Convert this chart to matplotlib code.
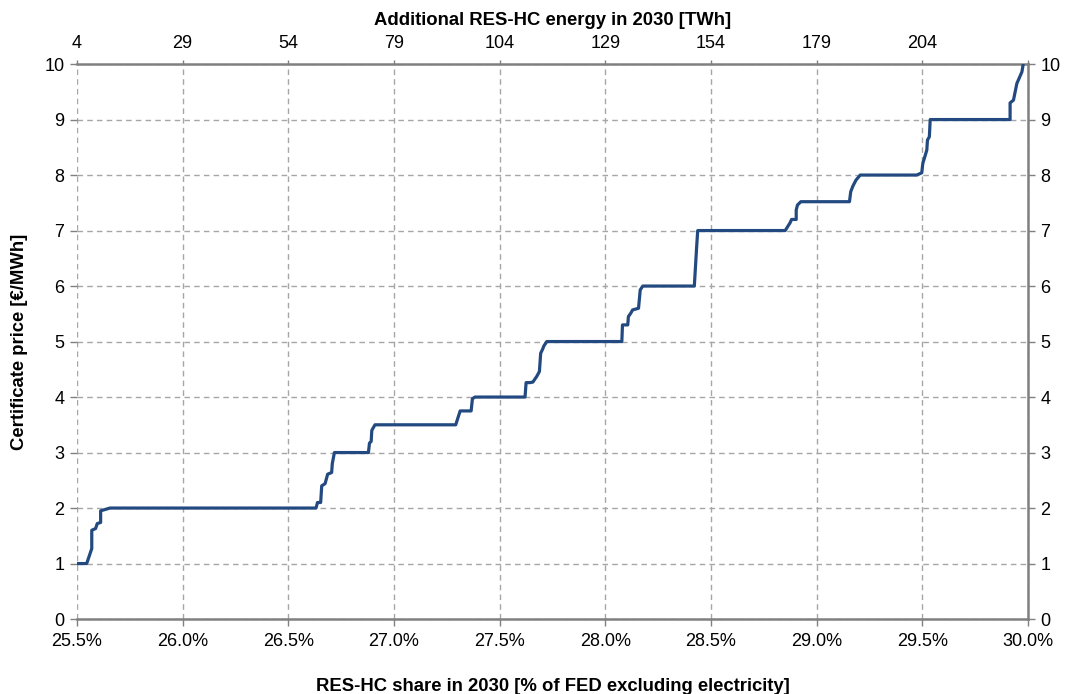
import matplotlib
matplotlib.use("Agg")
import matplotlib.pyplot as plt

plt.rcParams["font.family"] = ["Liberation Sans", "DejaVu Sans"]

# RES-HC share in 2030 [%] and certificate price [EUR/MWh]
share = [25.500, 25.546, 25.570, 25.570, 25.588, 25.596, 25.612, 25.612, 25.656,
         26.631, 26.638, 26.653, 26.658, 26.674, 26.686, 26.705, 26.708, 26.718,
         26.879, 26.884, 26.892, 26.895, 26.910,
         27.292, 27.313, 27.365, 27.371, 27.383,
         27.620, 27.625, 27.643, 27.657, 27.675, 27.688, 27.694, 27.703, 27.709, 27.723,
         28.078, 28.081, 28.106, 28.109, 28.120, 28.129, 28.157, 28.165, 28.177,
         28.421, 28.432, 28.437,
         28.851, 28.874, 28.881, 28.903, 28.903, 28.909, 28.925,
         29.155, 29.161, 29.171, 29.186, 29.206,
         29.473, 29.497, 29.502, 29.521, 29.524, 29.533, 29.537,
         29.915, 29.915, 29.931, 29.947, 29.971, 29.977]
price = [1.00, 1.00, 1.27, 1.60, 1.63, 1.72, 1.74, 1.95, 2.00,
         2.00, 2.10, 2.10, 2.40, 2.44, 2.61, 2.64, 2.80, 3.00,
         3.00, 3.17, 3.20, 3.40, 3.50,
         3.50, 3.75, 3.75, 3.97, 4.00,
         4.00, 4.26, 4.26, 4.27, 4.37, 4.46, 4.79, 4.86, 4.92, 5.00,
         5.00, 5.30, 5.30, 5.45, 5.51, 5.57, 5.60, 5.93, 6.00,
         6.00, 6.71, 7.00,
         7.00, 7.14, 7.20, 7.20, 7.37, 7.46, 7.52,
         7.52, 7.70, 7.80, 7.91, 8.00,
         8.00, 8.04, 8.21, 8.45, 8.63, 8.69, 9.00,
         9.00, 9.30, 9.35, 9.65, 9.86, 10.00]

bottom_ticks = [25.5, 26.0, 26.5, 27.0, 27.5, 28.0, 28.5, 29.0, 29.5, 30.0]
bottom_labels = ["25.5%", "26.0%", "26.5%", "27.0%", "27.5%", "28.0%", "28.5%",
                 "29.0%", "29.5%", "30.0%"]
top_labels = ["4", "29", "54", "79", "104", "129", "154", "179", "204", ""]
y_ticks = [0, 1, 2, 3, 4, 5, 6, 7, 8, 9, 10]

grey = "#808080"
fs = 13
fs_lab = 13.3

fig = plt.figure(figsize=(10.69, 6.94), dpi=100)
ax = fig.add_axes([0.072, 0.108, 0.8897, 0.7997])
ax.plot(share, price, color="#234A80", lw=2.3, solid_joinstyle="round", zorder=3)

ax.set_xlim(25.5, 30.0)
ax.set_ylim(0, 10)
ax.set_xticks(bottom_ticks)
ax.set_xticklabels(bottom_labels)
ax.set_yticks(y_ticks)
ax.grid(True, color="#A6A6A6", linestyle=(0, (4, 3)), lw=1.0)
ax.tick_params(axis="both", labelsize=fs, color=grey, length=5, width=1)
ax.tick_params(axis="x", pad=5)
ax.tick_params(axis="y", pad=4)
for side in ["bottom", "right", "top"]:
    ax.spines[side].set_color(grey)
    ax.spines[side].set_linewidth(1.8)
ax.spines["left"].set_visible(False)
ax.set_xlabel("RES-HC share in 2030 [% of FED excluding electricity]",
              fontsize=fs_lab, fontweight="bold", labelpad=20)
ax.set_ylabel("Certificate price [€/MWh]", fontsize=fs_lab, fontweight="bold", labelpad=12)

# right axis repeats price ticks
ax_r = ax.twinx()
ax_r.set_ylim(0, 10)
ax_r.set_yticks(y_ticks)
ax_r.tick_params(axis="y", labelsize=fs, color=grey, length=5, width=1, pad=4)
for s in ax_r.spines.values():
    s.set_visible(False)

# top axis: additional energy in TWh
ax_t = ax.twiny()
ax_t.set_xlim(25.5, 30.0)
ax_t.set_xticks(bottom_ticks)
ax_t.set_xticklabels(top_labels)
ax_t.tick_params(axis="x", labelsize=fs, color=grey, length=3, width=1, pad=6)
for s in ax_t.spines.values():
    s.set_visible(False)
ax_t.set_xlabel("Additional RES-HC energy in 2030 [TWh]", fontsize=fs_lab,
                fontweight="bold", labelpad=7)

fig.savefig("out.png", dpi=100)
